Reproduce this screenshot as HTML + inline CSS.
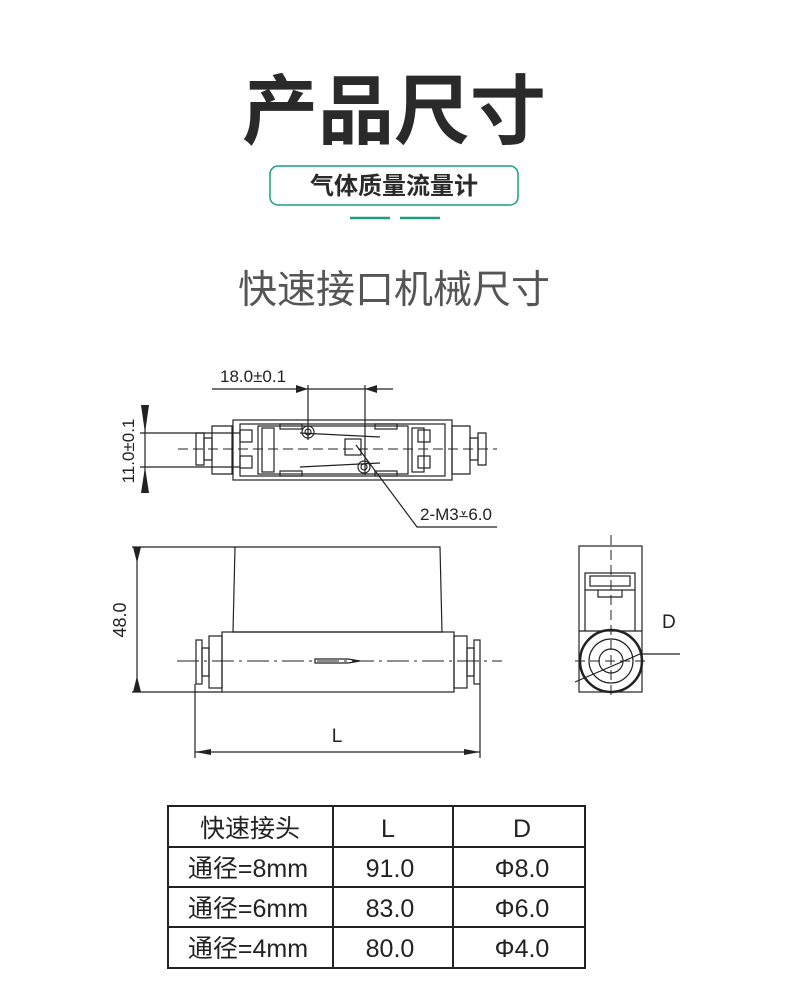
<!DOCTYPE html>
<html><head><meta charset="utf-8"><style>
body{margin:0;background:#fff;}
svg{display:block}
</style></head><body>
<svg width="790" height="1000" viewBox="0 0 790 1000" xmlns="http://www.w3.org/2000/svg" font-family="Liberation Sans, Noto Sans CJK SC, sans-serif">
<text x="394" y="138" text-anchor="middle" font-size="76" font-weight="bold" fill="#2a2a2a" font-family="Noto Sans CJK SC, sans-serif">产品尺寸</text>
<rect x="270" y="166" width="248" height="39" rx="8" fill="none" stroke="#1a9e7e" stroke-width="1.5"/>
<text x="394" y="194" text-anchor="middle" font-size="24" font-weight="bold" fill="#2a2a2a" font-family="Noto Sans CJK SC, sans-serif">气体质量流量计</text>
<line x1="350" y1="218" x2="390" y2="218" stroke="#1a9e7e" stroke-width="2.5"/>
<line x1="400" y1="218" x2="440" y2="218" stroke="#1a9e7e" stroke-width="2.5"/>
<text x="394" y="303" text-anchor="middle" font-size="39" fill="#555" font-family="Noto Sans CJK SC, sans-serif">快速接口机械尺寸</text>

<g stroke="#222" fill="none" stroke-width="1.2">
<rect x="233" y="420" width="219" height="60"/>
<rect x="240" y="424" width="205" height="52"/>
<rect x="258" y="426" width="150" height="48"/>
<path d="M212 426h20v48h-20zM452 426h18v48h-18z"/>
<path d="M196 433h8v32h-8zM478 433h8v32h-8z"/>
<path d="M204 438h8v22h-8zM470 438h8v22h-8z"/>
<rect x="240" y="430" width="12" height="12"/><rect x="240" y="456" width="12" height="12"/>
<rect x="418" y="430" width="12" height="12"/><rect x="418" y="456" width="12" height="12"/>
<rect x="262" y="428" width="12" height="44"/><rect x="412" y="428" width="12" height="44"/>
<rect x="280" y="424" width="22" height="5"/><rect x="280" y="471" width="22" height="5"/>
<rect x="375" y="424" width="22" height="5"/><rect x="375" y="471" width="22" height="5"/>
<path d="M300 433 L380 437 M300 467 L380 463"/>
<rect x="345" y="439" width="16" height="16"/>
<circle cx="308" cy="432" r="6"/><circle cx="308" cy="432" r="3"/>
<circle cx="364" cy="467" r="6"/><circle cx="364" cy="467" r="3"/>
<line x1="178" y1="449" x2="497" y2="449" stroke-dasharray="10 5" stroke-width="1"/>
<line x1="308" y1="385" x2="308" y2="440"/><line x1="365" y1="385" x2="365" y2="475"/>
<line x1="212" y1="389" x2="393" y2="389"/>
<line x1="140" y1="433" x2="240" y2="433"/><line x1="140" y1="467" x2="240" y2="467"/>
<line x1="145" y1="405" x2="145" y2="493"/>
<path d="M356 445 L417 527 H497"/>
<path d="M235 547 H440 L442 632 H233 Z"/>
<rect x="222" y="632" width="232" height="60"/>
<rect x="209" y="636" width="13" height="52"/><rect x="454" y="636" width="13" height="52"/>
<rect x="196" y="640" width="6" height="44"/><rect x="474" y="640" width="6" height="44"/>
<path d="M202 648h7v28h-7zM467 648h7v28h-7z"/>
<line x1="177" y1="661" x2="502" y2="661" stroke-dasharray="22 5 3 5" stroke-width="1"/>
<path d="M315 659 H348 L360 661 L348 663 H315 Z"/>
<line x1="132" y1="547" x2="235" y2="547"/><line x1="132" y1="692" x2="222" y2="692"/>
<line x1="137" y1="547" x2="137" y2="692"/>
<line x1="195" y1="684" x2="195" y2="758"/><line x1="480" y1="684" x2="480" y2="758"/>
<line x1="195" y1="752" x2="480" y2="752"/>
<rect x="579" y="546" width="63" height="146"/>
<line x1="579" y1="631" x2="642" y2="631"/>
<rect x="585" y="573" width="50" height="17"/><rect x="590" y="576" width="40" height="10"/>
<path d="M598 590v7h24v-7"/>
<line x1="585" y1="590" x2="585" y2="631"/><line x1="635" y1="590" x2="635" y2="631"/>
<circle cx="611" cy="661" r="31" stroke-width="2.5"/>
<circle cx="611" cy="661" r="22"/>
<circle cx="611" cy="661" r="12"/>
<line x1="611" y1="535" x2="611" y2="700" stroke-dasharray="10 5" stroke-width="1"/>
<line x1="575" y1="661" x2="647" y2="661" stroke-dasharray="10 5" stroke-width="1"/>
<path d="M575 682 L640 654 L680 654"/>
</g>
<g fill="#222">
<path d="M141 405 h8 l-4 28z M141 493 h8 l-4 -26z"/>
<path d="M296 385 v8 l12 -4z M377 385 v8 l-12 -4z"/>
<path d="M133 547 h8 l-4 16z M133 692 h8 l-4 -16z"/>
<path d="M195 752 l16 -3 v6z M480 752 l-16 -3 v6z"/>
</g>
<g font-size="17" fill="#222">
<text x="220" y="382">18.0±0.1</text>
<text x="134" y="451" text-anchor="middle" transform="rotate(-90 134 451)">11.0±0.1</text>
<text x="420" y="520">2-M3⩡6.0</text>
<text x="126" y="620" text-anchor="middle" font-size="18" transform="rotate(-90 126 620)">48.0</text>
<text x="337" y="742" text-anchor="middle" font-size="19">L</text>
<text x="662" y="628" font-size="19">D</text>
</g>
<g stroke="#222" stroke-width="2" fill="none">
<rect x="168" y="806" width="417" height="162"/>
<line x1="333" y1="806" x2="333" y2="968"/><line x1="453" y1="806" x2="453" y2="968"/>
<line x1="168" y1="847" x2="585" y2="847"/><line x1="168" y1="887" x2="585" y2="887"/><line x1="168" y1="927" x2="585" y2="927"/>
</g>
<g font-size="25" fill="#222" text-anchor="middle" font-family="Liberation Sans, Noto Sans CJK SC, sans-serif">
<text x="250" y="837">快速接头</text><text x="388" y="837">L</text><text x="522" y="837">D</text>
<text x="248" y="877">通径=8mm</text><text x="390" y="877">91.0</text><text x="522" y="877">Φ8.0</text>
<text x="248" y="917">通径=6mm</text><text x="390" y="917">83.0</text><text x="522" y="917">Φ6.0</text>
<text x="248" y="957">通径=4mm</text><text x="390" y="957">80.0</text><text x="522" y="957">Φ4.0</text>
</g>
</svg>
</body></html>
